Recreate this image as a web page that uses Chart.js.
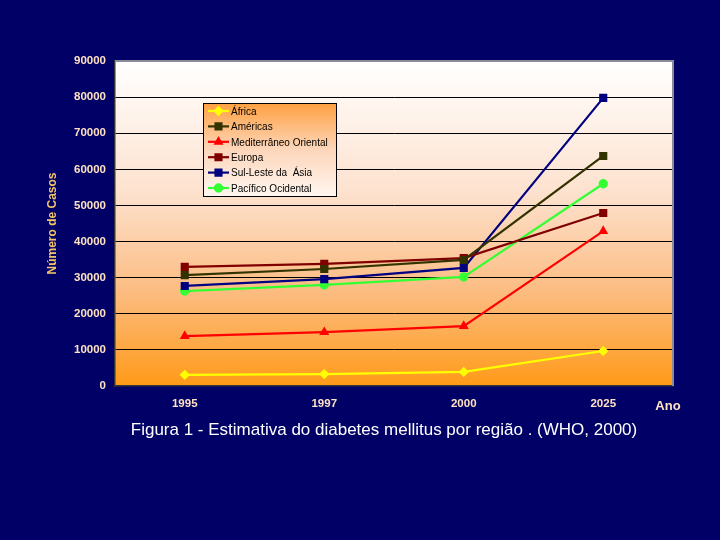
<!DOCTYPE html>
<html>
<head>
<meta charset="utf-8">
<script src="https://cdn.jsdelivr.net/npm/chart.js@4/dist/chart.umd.min.js"></script>
<style>
    html, body { margin: 0; padding: 0; background: #000066; }
    #wrap { width: 720px; height: 540px; }
</style>
</head>
<body>
<div id="wrap"><canvas id="diabetesChart" width="720" height="540"></canvas></div>
<script>
// --- データ ---
const anos = ['1995', '1997', '2000', '2025'];
const africa = [3100, 3300, 3900, 9700];
const americas = [30700, 32400, 34900, 63700];
const mediterraneo = [13800, 14900, 16600, 42900];
const europa = [33000, 33800, 35400, 47900];
const sulesteAsia = [27700, 29600, 32700, 79800];
const pacifico = [26300, 28000, 30200, 56000];
const yTicks = [0, 10000, 20000, 30000, 40000, 50000, 60000, 70000, 80000, 90000];

const tickColor = '#ffe2c4';

function serie(label, data, color, style) {
    return {
        label: label,
        data: data,
        borderColor: color,
        backgroundColor: color,
        borderWidth: 2.2,
        pointStyle: style,
        pointRadius: style === 'rect' ? 4.2 : 3.6,
        pointHoverRadius: 4,
        tension: 0
    };
}

// 凡例（グラフ内の枠）
function drawLegendBox(chart) {
    const c = chart.ctx;
    const lx = 203, ly = 103, lw = 133, lh = 93;
    c.save();
    const lg = c.createLinearGradient(lx, ly, lx, ly + lh);
    lg.addColorStop(0, 'rgb(255,160,64)');
    lg.addColorStop(0.5, 'rgb(253,214,186)');
    lg.addColorStop(1, 'rgb(255,246,240)');
    c.globalAlpha = 1;
    c.fillStyle = lg;
    c.beginPath();
    c.rect(lx, ly, lw, lh);
    c.fill();
    c.strokeStyle = '#000000';
    c.lineWidth = 1;
    c.strokeRect(lx + 0.5, ly + 0.5, lw, lh);
    c.font = '10px "Liberation Sans", Arial, sans-serif';
    c.textBaseline = 'middle';
    chart.data.datasets.forEach((ds, i) => {
        const y = 111 + i * 15.4;
        c.strokeStyle = ds.borderColor;
        c.lineWidth = 2.2;
        c.beginPath();
        c.moveTo(208, y);
        c.lineTo(229, y);
        c.stroke();
        c.fillStyle = ds.borderColor;
        Chart.helpers.drawPoint(c, {
            pointStyle: ds.pointStyle,
            radius: ds.pointRadius,
            borderWidth: 1
        }, 218.5, y);
        c.fillStyle = '#000000';
        c.textAlign = 'left';
        c.fillText(ds.label, 231, y + 1);
    });
    c.restore();
}

// --- 背景・キャプション ---
const decor = {
    id: 'decor',
    beforeDraw(chart) {
        const c = chart.ctx;
        const a = chart.chartArea;
        c.save();
        c.fillStyle = '#000066';
        c.fillRect(0, 0, chart.width, chart.height);
        const g = c.createLinearGradient(0, a.top, 0, a.bottom);
        g.addColorStop(0, '#ffffff');
        g.addColorStop(0.4, '#fde2cf');
        g.addColorStop(0.7, '#fcbd84');
        g.addColorStop(1, '#ff9a18');
        c.fillStyle = g;
        c.fillRect(a.left, a.top, a.right - a.left, a.bottom - a.top);
        c.restore();
    },
    afterDraw(chart) {
        const c = chart.ctx;
        const a = chart.chartArea;
        c.save();
        // 枠線（上・右）
        c.strokeStyle = '#8a8a9a';
        c.lineWidth = 2;
        c.beginPath();
        c.moveTo(a.left, a.top);
        c.lineTo(a.right, a.top);
        c.lineTo(a.right, a.bottom);
        c.stroke();

        // 軸名・キャプション
        c.fillStyle = tickColor;
        c.font = 'bold 13px "Liberation Sans", Arial, sans-serif';
        c.textAlign = 'center';
        c.textBaseline = 'middle';
        c.fillText('Ano', 668, 406);
        c.fillStyle = '#ffffff';
        c.font = '17px "Liberation Sans", Arial, sans-serif';
        c.fillText('Figura 1 - Estimativa do diabetes mellitus por região . (WHO, 2000)', 384, 430);
        c.restore();
        drawLegendBox(chart);
    }
};

const ctx = document.getElementById('diabetesChart').getContext('2d');
const chart = new Chart(ctx, {
    type: 'line',
    data: {
        labels: anos,
        datasets: [
            serie('África', africa, '#ffff00', 'rectRot'),
            serie('Américas', americas, '#333300', 'rect'),
            serie('Mediterrâneo Oriental', mediterraneo, '#ff0000', 'triangle'),
            serie('Europa', europa, '#800000', 'rect'),
            serie('Sul-Leste da  Ásia', sulesteAsia, '#000080', 'rect'),
            serie('Pacífico Ocidental', pacifico, '#33ff33', 'circle')
        ]
    },
    options: {
        responsive: false,
        animation: false,
        layout: { padding: { left: 0, right: 47, top: 61, bottom: 0 } },
        plugins: {
            legend: { display: false },
            tooltip: { enabled: false }
        },
        scales: {
            x: {
                offset: true,
                grid: { display: false, drawTicks: false },
                border: { color: '#333333', width: 1.5 },
                ticks: {
                    color: tickColor,
                    padding: 11,
                    font: { family: '"Liberation Sans", Arial', size: 11.5, weight: 'bold' }
                },
                afterFit(scale) { scale.height = 154; }
            },
            y: {
                min: 0,
                max: 90000,
                afterBuildTicks(scale) { scale.ticks = yTicks.map(v => ({ value: v })); },
                grid: {
                    drawTicks: false,
                    color: c => (c.tick && (c.tick.value === 0 || c.tick.value === 90000)) ? 'rgba(0,0,0,0)' : '#000000',
                    lineWidth: 1
                },
                border: { color: '#333333', width: 1.5 },
                ticks: {
                    color: tickColor,
                    padding: 9,
                    callback: v => String(v),
                    font: { family: '"Liberation Sans", Arial', size: 11.5, weight: 'bold' }
                },
                title: {
                    display: true,
                    text: 'Número de Casos',
                    color: '#f2c46a',
                    padding: { top: 45, bottom: 0 },
                    font: { family: '"Liberation Sans", Arial', size: 12, weight: 'bold' }
                },
                afterFit(scale) { scale.width = 115; }
            }
        }
    },
    plugins: [decor]
});
</script>
</body>
</html>
